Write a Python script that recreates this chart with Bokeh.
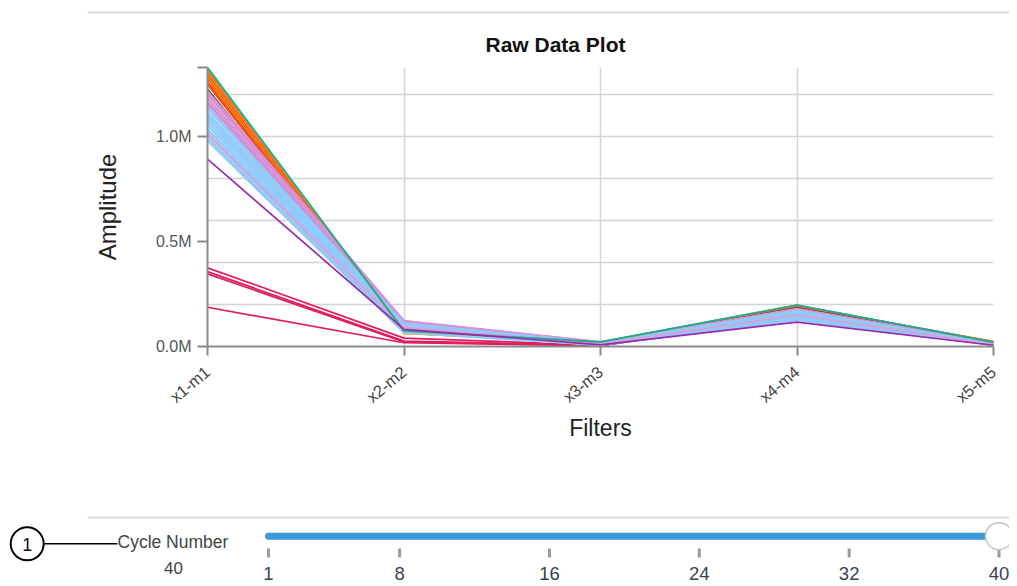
from bokeh.plotting import figure
from bokeh.models import Range1d, FixedTicker, ColumnDataSource
from bokeh.core.properties import value
from bokeh.embed import file_html
from bokeh.resources import INLINE

# ---------------- data ----------------
filters = ["x1-m1", "x2-m2", "x3-m3", "x4-m4", "x5-m5"]

amp_x1 = [375000, 357000, 346000, 187000,
          1312000, 1303000, 1294000, 1284000, 1277000, 1266000, 1258000, 1249000,
          1227000,
          1218000, 1209000, 1201000, 1189000, 1181000, 1168000, 1160000, 1147000,
          1141000, 1132000, 1118000, 1111000, 1099000, 1092000, 1079000, 1071000, 1058000,
          1052000, 1038000, 1031000, 1019000, 1011000, 998000, 991000, 979000,
          1012000,
          1324000, 1331000,
          893000]
amp_x2 = [40000, 26000, 22000, 18000,
          64000, 62000, 67000, 63000, 69000, 65000, 71000, 66000,
          73000,
          124000, 121000, 120000, 117000, 116000, 113000, 111000, 110000,
          111000, 108000, 104000, 102000, 98000, 96000, 92000, 90000, 86000,
          84000, 80000, 78000, 75000, 72000, 69000, 67000, 65000,
          91000,
          73000, 75000,
          82000]
amp_x3 = [6000, 5000, 4000, 3000,
          20000, 19000, 18000, 19000, 18000, 17000, 18000, 17000,
          17000,
          22000, 21000, 21000, 20000, 19000, 19000, 18000, 18000,
          17000, 16000, 16000, 15000, 14000, 13000, 13000, 12000, 11000,
          11000, 10000, 9000, 9000, 8000, 7000, 7000, 6000,
          12000,
          21000, 22000,
          8000]
amp_x4 = [150000, 148000, 146000, 144000,
          194000, 192000, 190000, 189000, 188000, 187000, 186000, 185000,
          184000,
          180000, 179000, 178000, 177000, 176000, 175000, 174000, 173000,
          172000, 169000, 167000, 163000, 161000, 157000, 155000, 151000, 149000,
          145000, 143000, 139000, 136000, 133000, 130000, 128000, 125000,
          150000,
          198000, 197000,
          116000]
amp_x5 = [8000, 7000, 7000, 6000,
          24000, 23000, 22000, 22000, 21000, 21000, 20000, 20000,
          19000,
          18000, 17000, 17000, 16000, 16000, 15000, 15000, 14000,
          14000, 13000, 13000, 12000, 12000, 11000, 11000, 10000, 10000,
          9000, 9000, 8000, 8000, 7000, 7000, 6000, 6000,
          9000,
          20000, 21000,
          6000]

line_colors = (["#DE1F5C"] * 4
               + ["#FF5722", "#FF9800", "#F4511E", "#FFA726", "#FF5722", "#FB8C00", "#F4511E", "#E65100"]
               + ["#6D4C41"]
               + ["#CE93D8", "#E391C9", "#D48AD9", "#E8A0CF", "#CE93D8", "#DB8FD3", "#C98BD6", "#E39BD3"]
               + ["#90CAF9"] * 17
               + ["#E39BD3"]
               + ["#7CB342", "#26A69A"]
               + ["#9C27B0"])

cycle_ticks = [1, 8, 16, 24, 32, 40]
cycle_value = 40

y_label_ticks = [0, 500000, 1000000]
y_label_text = ["0.0M", "0.5M", "1.0M"]
y_grid_ticks = [200000, 400000, 600000, 800000, 1000000, 1200000]
y_max = 1330000

FONT = "Liberation Sans"
W = 1009


def bare(height, xr, yr):
    f = figure(width=W, height=height, x_range=xr, y_range=yr,
               output_backend="svg", toolbar_location=None,
               x_axis_location=None, y_axis_location=None,
               min_border_left=0, min_border_right=0, min_border_top=0, min_border_bottom=0)
    f.grid.visible = False
    f.outline_line_color = None
    return f


# ---------------- top rule ----------------
top = bare(16, Range1d(0, W), Range1d(16, 0))
top.segment(x0=[87], x1=[W], y0=[12], y1=[12], line_color="#dcdcdc", line_width=2)

# ---------------- main chart ----------------
xpos = list(range(len(filters)))
xs = [xpos for _ in amp_x1]
ys = [[a, b, c, d, e] for a, b, c, d, e in zip(amp_x1, amp_x2, amp_x3, amp_x4, amp_x5)]
src = ColumnDataSource(dict(xs=xs, ys=ys, color=line_colors))

p = figure(width=W, height=462,
           x_range=Range1d(0, len(filters) - 1), y_range=Range1d(0, y_max),
           output_backend="svg", toolbar_location=None,
           min_border_left=207, min_border_right=16, min_border_top=51, min_border_bottom=132)
p.outline_line_color = None
p.background_fill_color = "white"
p.border_fill_color = "white"

p.title.text = "Raw Data Plot"
p.title.align = "left"
p.title.offset = 278
p.title.text_font = FONT
p.title.text_font_size = "21px"
p.title.text_font_style = "bold"
p.title.text_color = "#111111"
p.title.standoff = 24

p.multi_line(xs="xs", ys="ys", line_color="color", line_width=1.7, source=src)

# x axis
xa = p.xaxis[0]
xa.ticker = FixedTicker(ticks=xpos)
xa.major_label_overrides = {i: f for i, f in enumerate(filters)}
xa.major_label_orientation = 0.70
xa.axis_label = "Filters"
xa.axis_label_text_font = FONT
xa.axis_label_text_font_size = "23px"
xa.axis_label_text_font_style = "normal"
xa.axis_label_text_color = "#222222"
xa.axis_label_standoff = -1
xa.major_label_text_font = FONT
xa.major_label_text_font_size = "16.5px"
xa.major_label_text_color = "#444444"
xa.major_label_standoff = 14
xa.axis_line_color = "#8a8a8a"
xa.axis_line_width = 2
xa.major_tick_line_color = "#8a8a8a"
xa.major_tick_line_width = 2
xa.major_tick_out = 9
xa.major_tick_in = 0
xa.minor_tick_line_color = None

# y axis
ya = p.yaxis[0]
ya.ticker = FixedTicker(ticks=y_label_ticks + [y_max])
ov = {t: s for t, s in zip(y_label_ticks, y_label_text)}
ov[y_max] = ""
ya.major_label_overrides = ov
ya.axis_label = "Amplitude"
ya.axis_label_text_font = FONT
ya.axis_label_text_font_size = "24px"
ya.axis_label_text_font_style = "normal"
ya.axis_label_text_color = "#222222"
ya.axis_label_standoff = 32
ya.major_label_text_font = FONT
ya.major_label_text_font_size = "16px"
ya.major_label_text_color = "#555555"
ya.major_label_standoff = 6
ya.axis_line_color = "#8a8a8a"
ya.axis_line_width = 2
ya.major_tick_line_color = "#8a8a8a"
ya.major_tick_line_width = 2
ya.major_tick_out = 10
ya.major_tick_in = 0
ya.minor_tick_line_color = None

p.xgrid.ticker = FixedTicker(ticks=xpos[1:])
p.ygrid.ticker = FixedTicker(ticks=y_grid_ticks)
p.xgrid.grid_line_color = "#d4d4d4"
p.ygrid.grid_line_color = "#d4d4d4"
p.xgrid.grid_line_width = 1.5
p.ygrid.grid_line_width = 1.5

# ---------------- slider section ----------------
# slider value 1 sits at x=268 and value 40 at x=998.5
span = cycle_ticks[-1] - cycle_ticks[0]
lo = cycle_ticks[0] - 268 * span / (998.5 - 268)
hi = cycle_ticks[0] + (W - 268) * span / (998.5 - 268)
b = bare(108, Range1d(lo, hi), Range1d(108, 0))
b.extra_x_ranges = {"px": Range1d(0, W)}

b.segment(x0=[87], x1=[W], y0=[39], y1=[39], x_range_name="px",
          line_color="#dcdcdc", line_width=2)
b.segment(x0=[44], x1=[117], y0=[65.3], y1=[65.3], x_range_name="px",
          line_color="black", line_width=1.5)
b.scatter(x=[26.7], y=[65.3], marker="circle", size=33, x_range_name="px",
          fill_color="white", line_color="black", line_width=2)
b.text(x=[26.7], y=[66], text=["1"], x_range_name="px", text_align="center",
       text_baseline="middle", text_font=value(FONT), text_font_size="18px", text_color="#111111")
b.text(x=[117], y=[63.5], text=["Cycle Number"], x_range_name="px", text_align="left",
       text_baseline="middle", text_font=value(FONT), text_font_size="17.5px", text_color="#444444")
b.text(x=[173], y=[89.5], text=[str(cycle_value)], x_range_name="px", text_align="center",
       text_baseline="middle", text_font=value(FONT), text_font_size="17px", text_color="#444444")

b.segment(x0=[cycle_ticks[0]], x1=[cycle_value], y0=[57.7], y1=[57.7],
          line_color="#3a9ad9", line_width=7, line_cap="round")
b.segment(x0=cycle_ticks, x1=cycle_ticks, y0=[70] * len(cycle_ticks), y1=[79] * len(cycle_ticks),
          line_color="#9a9a9a", line_width=3)
b.text(x=cycle_ticks, y=[95] * len(cycle_ticks), text=[str(t) for t in cycle_ticks],
       text_align="center", text_baseline="middle", text_font=value(FONT),
       text_font_size="18.5px", text_color="#3a4250")
b.scatter(x=[cycle_value], y=[57.7], marker="circle", size=27,
          fill_color="white", line_color="#c4c4c4", line_width=1.5)

open("out.html", "w").write(file_html([top, p, b], INLINE))
